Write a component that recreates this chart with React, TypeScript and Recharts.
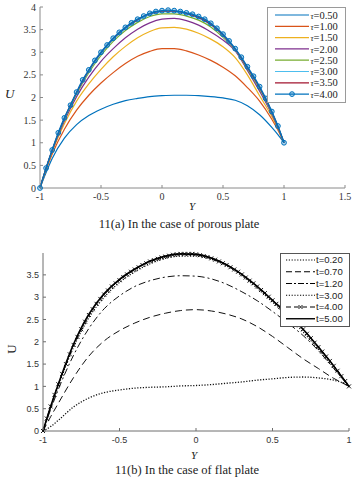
import React from 'react'
import { LineChart, Line, XAxis, YAxis } from 'recharts'

// shared Y sampling for the smooth curves
const yGrid = [-1, -0.95, -0.9, -0.8, -0.7, -0.6, -0.5, -0.4, -0.3, -0.2, -0.1, 0, 0.1, 0.2, 0.3, 0.4, 0.5, 0.6, 0.7, 0.8, 0.9, 0.95, 1]
const yGrid05 = Array.from({ length: 41 }, (_, i) => +(-1 + i * 0.05).toFixed(3))
const yGrid025 = Array.from({ length: 81 }, (_, i) => +(-1 + i * 0.025).toFixed(3))

// 11(a) porous plate
const tauLabels = ['0.50', '1.00', '1.50', '2.00', '2.50', '3.00', '3.50', '4.00']
const tauColors = ['#0072BD', '#D95319', '#EDB120', '#7E2F8E', '#77AC30', '#4DBEEE', '#A2142F', '#0072BD']
const tau050 = [0, 0.34, 0.65, 1.10, 1.40, 1.60, 1.74, 1.85, 1.93, 1.98, 2.02, 2.04, 2.05, 2.05, 2.04, 2.02, 1.99, 1.94, 1.82, 1.62, 1.34, 1.18, 1.0]
const tau100 = [0, 0.40, 0.75, 1.30, 1.72, 2.05, 2.32, 2.55, 2.75, 2.91, 3.02, 3.08, 3.08, 3.03, 2.94, 2.82, 2.67, 2.48, 2.22, 1.92, 1.52, 1.28, 1.0]
const tau150 = [0, 0.42, 0.80, 1.42, 1.92, 2.30, 2.62, 2.90, 3.13, 3.32, 3.46, 3.54, 3.55, 3.51, 3.42, 3.29, 3.12, 2.88, 2.50, 2.04, 1.58, 1.31, 1.0]
const tau200 = [0, 0.43, 0.82, 1.48, 2.02, 2.45, 2.80, 3.08, 3.32, 3.51, 3.65, 3.73, 3.75, 3.70, 3.60, 3.45, 3.27, 3.03, 2.60, 2.14, 1.63, 1.33, 1.0]
const tau250 = [0, 0.43, 0.83, 1.52, 2.08, 2.55, 2.93, 3.24, 3.48, 3.66, 3.79, 3.85, 3.85, 3.80, 3.71, 3.56, 3.33, 3.05, 2.63, 2.19, 1.66, 1.35, 1.0]
const tau300 = [0, 0.44, 0.84, 1.53, 2.10, 2.58, 2.97, 3.28, 3.52, 3.70, 3.83, 3.89, 3.89, 3.84, 3.75, 3.60, 3.36, 3.06, 2.65, 2.21, 1.67, 1.36, 1.0]
const tau350 = [0, 0.44, 0.84, 1.54, 2.11, 2.60, 2.99, 3.30, 3.54, 3.72, 3.85, 3.91, 3.91, 3.86, 3.77, 3.62, 3.38, 3.07, 2.66, 2.22, 1.68, 1.36, 1.0]
// every 0.05 (marker positions)
const tau400 = [
  0, 0.44, 0.84, 1.22, 1.55, 1.83, 2.12, 2.39, 2.61, 2.82,
  3.00, 3.16, 3.31, 3.44, 3.55, 3.65, 3.73, 3.80, 3.86, 3.90,
  3.92, 3.93, 3.92, 3.90, 3.87, 3.84, 3.79, 3.73, 3.64, 3.53,
  3.40, 3.25, 3.08, 2.89, 2.68, 2.47, 2.24, 1.98, 1.69, 1.37,
  1.0,
]
const topXTicks = [-1, -0.5, 0, 0.5, 1, 1.5]
const topYTicks = [0, 0.5, 1, 1.5, 2, 2.5, 3, 3.5, 4]

// 11(b) flat plate
const tLabels = ['0.20', '0.70', '1.20', '3.00', '4.00', '5.00']
const t020 = [0, 0.10, 0.24, 0.54, 0.74, 0.86, 0.92, 0.96, 0.98, 0.99, 1.01, 1.02, 1.04, 1.07, 1.10, 1.14, 1.17, 1.20, 1.21, 1.19, 1.14, 1.09, 1.0]
const t070 = [0, 0.32, 0.62, 1.20, 1.68, 2.02, 2.25, 2.42, 2.55, 2.64, 2.70, 2.72, 2.69, 2.62, 2.51, 2.34, 2.12, 1.87, 1.62, 1.40, 1.18, 1.09, 1.0]
const t120 = [0, 0.48, 0.93, 1.70, 2.30, 2.74, 3.03, 3.24, 3.37, 3.45, 3.48, 3.47, 3.41, 3.29, 3.12, 2.92, 2.68, 2.42, 2.14, 1.80, 1.40, 1.20, 1.0]
const t300 = [0, 0.53, 1.01, 1.88, 2.54, 3.00, 3.33, 3.57, 3.75, 3.87, 3.92, 3.92, 3.85, 3.70, 3.48, 3.20, 2.89, 2.57, 2.22, 1.83, 1.42, 1.21, 1.0]
const t500 = [0, 0.55, 1.05, 1.95, 2.62, 3.08, 3.40, 3.63, 3.81, 3.92, 3.97, 3.96, 3.88, 3.73, 3.51, 3.24, 2.93, 2.62, 2.28, 1.88, 1.46, 1.23, 1.0]
// every 0.025 (marker positions)
const t400 = [
  0, 0.28, 0.55, 0.81, 1.05, 1.28, 1.50, 1.72, 1.93, 2.11,
  2.28, 2.45, 2.60, 2.73, 2.85, 2.96, 3.06, 3.15, 3.24, 3.31,
  3.38, 3.45, 3.51, 3.57, 3.62, 3.67, 3.72, 3.76, 3.80, 3.83,
  3.86, 3.89, 3.91, 3.93, 3.95, 3.96, 3.97, 3.97, 3.97, 3.97,
  3.96, 3.94, 3.92, 3.90, 3.87, 3.84, 3.80, 3.76, 3.72, 3.67,
  3.62, 3.57, 3.51, 3.44, 3.37, 3.31, 3.24, 3.16, 3.09, 3.01,
  2.93, 2.85, 2.78, 2.70, 2.62, 2.54, 2.45, 2.37, 2.28, 2.18,
  2.08, 1.98, 1.88, 1.78, 1.67, 1.57, 1.46, 1.35, 1.23, 1.12,
  1.0,
]
const botXTicks = [-1, -0.5, 0, 0.5, 1]
const botYTicks = [0, 0.5, 1, 1.5, 2, 2.5, 3, 3.5]

const serif = '"Liberation Serif", "DejaVu Serif", serif'
const sans = '"Liberation Sans", Arial, sans-serif'

const pts = (xs: number[], us: number[]) => xs.map((x, i) => ({ x, u: us[i] }))
const blank = () => ''

const tauSeries = [tau050, tau100, tau150, tau200, tau250, tau300, tau350]

function Cross(props: any) {
  const { cx, cy, index } = props
  if (cx == null || cy == null) return <g key={`c${index}`} />
  const s = 2
  return (
    <path key={`c${index}`} d={`M${cx - s},${cy - s}L${cx + s},${cy + s}M${cx - s},${cy + s}L${cx + s},${cy - s}`}
      stroke="#000" strokeWidth={0.9} fill="none" />
  )
}

function PorousChart() {
  const ax = '#8a8a8a'
  return (
    <LineChart width={356} height={240} margin={{ top: 7, right: 11, bottom: 32, left: 0 }}>
      <XAxis dataKey="x" type="number" domain={[-1, 1.5]} ticks={topXTicks} interval={0} height={20}
        tickSize={-3} tickMargin={8} axisLine={{ stroke: ax }} tickLine={{ stroke: ax }}
        tick={{ fontSize: 10, fill: '#333', fontFamily: serif }} />
      <XAxis xAxisId="top" orientation="top" type="number" domain={[-1, 1.5]} ticks={topXTicks} interval={0}
        height={0} tickSize={-3} tickFormatter={blank} axisLine={{ stroke: ax }} tickLine={{ stroke: ax }} />
      <YAxis dataKey="u" type="number" domain={[0, 4]} ticks={topYTicks} interval={0} width={40}
        tickSize={-3} tickMargin={7} axisLine={{ stroke: ax }} tickLine={{ stroke: ax }}
        tick={{ fontSize: 10, fill: '#333', fontFamily: serif }} />
      <YAxis yAxisId="right" orientation="right" type="number" domain={[0, 4]} ticks={topYTicks} interval={0}
        width={0} tickSize={-3} tickFormatter={blank} axisLine={{ stroke: ax }} tickLine={{ stroke: ax }} />
      {tauSeries.map((s, i) => (
        <Line key={tauLabels[i]} data={pts(yGrid, s)} dataKey="u" type="monotone" stroke={tauColors[i]}
          strokeWidth={1.2} dot={false} isAnimationActive={false} />
      ))}
      <Line data={pts(yGrid05, tau400)} dataKey="u" type="monotone" stroke={tauColors[7]} strokeWidth={1.4}
        dot={{ r: 2.4, stroke: '#0072BD', strokeWidth: 1, fill: 'rgba(0,114,189,0.3)' }} isAnimationActive={false} />
    </LineChart>
  )
}

function FlatChart() {
  const ax = '#6e6e6e'
  return (
    <LineChart width={356} height={240} margin={{ top: 13, right: 7, bottom: 29, left: 0 }}>
      <XAxis dataKey="x" type="number" domain={[-1, 1]} ticks={botXTicks} interval={0} height={20}
        tickSize={-3} tickMargin={9} axisLine={{ stroke: ax }} tickLine={{ stroke: ax }}
        tick={{ fontSize: 9, fill: '#333', fontFamily: sans }} />
      <XAxis xAxisId="top" orientation="top" type="number" domain={[-1, 1]} ticks={botXTicks} interval={0}
        height={0} tickSize={-3} tickFormatter={blank} axisLine={{ stroke: ax }} tickLine={{ stroke: ax }} />
      <YAxis dataKey="u" type="number" domain={[0, 3.99]} ticks={botYTicks} interval={0} width={43}
        tickSize={-3} tickMargin={7} axisLine={{ stroke: ax }} tickLine={{ stroke: ax }}
        tick={{ fontSize: 9, fill: '#333', fontFamily: sans }} />
      <YAxis yAxisId="right" orientation="right" type="number" domain={[0, 3.99]} ticks={botYTicks} interval={0}
        width={0} tickSize={-3} tickFormatter={blank} axisLine={{ stroke: ax }} tickLine={{ stroke: ax }} />
      <Line data={pts(yGrid, t020)} dataKey="u" type="monotone" stroke="#111" strokeWidth={1.3}
        strokeDasharray="1.2 1.6" dot={false} isAnimationActive={false} />
      <Line data={pts(yGrid, t070)} dataKey="u" type="monotone" stroke="#111" strokeWidth={1}
        strokeDasharray="7 4" dot={false} isAnimationActive={false} />
      <Line data={pts(yGrid, t120)} dataKey="u" type="monotone" stroke="#111" strokeWidth={1}
        strokeDasharray="7 3 2 3" dot={false} isAnimationActive={false} />
      <Line data={pts(yGrid, t300)} dataKey="u" type="monotone" stroke="#111" strokeWidth={1.2}
        strokeDasharray="1.2 1.6" dot={false} isAnimationActive={false} />
      <Line data={pts(yGrid025, t400)} dataKey="u" type="monotone" stroke="#111" strokeWidth={1}
        strokeDasharray="5 3" dot={<Cross />} isAnimationActive={false} />
      <Line data={pts(yGrid, t500)} dataKey="u" type="monotone" stroke="#000" strokeWidth={1.6}
        dot={false} isAnimationActive={false} />
    </LineChart>
  )
}

function PorousLegend() {
  return (
    <svg width={79} height={96} style={{ position: 'absolute', left: 267, top: 7 }}>
      <rect x={0.5} y={0.5} width={78} height={95} fill="#fff" stroke="#9a9a9a" />
      {tauLabels.map((lab, i) => {
        const cy = 8 + i * 11.3
        return (
          <g key={lab}>
            <line x1={8} x2={42} y1={cy} y2={cy} stroke={tauColors[i]} strokeWidth={1.2} />
            {i === 7 && <circle cx={25} cy={cy} r={2.4} stroke="#0072BD" fill="rgba(0,114,189,0.3)" />}
            <text x={43.5} y={cy + 3.6} fontSize={10.5} fontFamily={serif} fill="#222">
              <tspan fontStyle="italic" fontSize={8.5}>τ</tspan>={lab}
            </text>
          </g>
        )
      })}
    </svg>
  )
}

function FlatLegend() {
  const dashes = ['1.2 1.6', '6 3', '6 2 2 2', '1.2 1.6', '5 3', undefined]
  return (
    <svg width={70} height={74} style={{ position: 'absolute', left: 280, top: 253 }}>
      <rect x={0.5} y={0.5} width={69} height={73} fill="#fff" stroke="#555" />
      {tLabels.map((lab, i) => {
        const cy = 7 + i * 11.75
        return (
          <g key={lab}>
            <line x1={6} x2={35} y1={cy} y2={cy} stroke="#000" strokeWidth={i === 5 ? 1.4 : 1.1}
              strokeDasharray={dashes[i]} />
            {i === 4 && <Cross cx={20.5} cy={cy} index={0} />}
            <text x={36} y={cy + 3.3} fontSize={9.5} fontFamily={sans} fill="#222">t={lab}</text>
          </g>
        )
      })}
    </svg>
  )
}

const abs = (s: React.CSSProperties): React.CSSProperties => ({ position: 'absolute', whiteSpace: 'nowrap', ...s })

export default function App() {
  return (
    <div style={{ position: 'absolute', left: 0, top: 0, width: 356, height: 480, background: '#fff', overflow: 'hidden' }}>
      <div style={abs({ left: 0, top: 0 })}><PorousChart /></div>
      <PorousLegend />
      <div style={abs({ left: 5, top: 86, fontFamily: serif, fontStyle: 'italic', fontSize: 13, color: '#222' })}>U</div>
      <div style={abs({ left: 189, top: 200, fontFamily: serif, fontStyle: 'italic', fontSize: 11, color: '#222' })}>Y</div>
      <div style={abs({ left: 0, top: 216, width: 358, textAlign: 'center', fontFamily: serif, fontSize: 12.5, lineHeight: '16px', color: '#222' })}>
        11(a) In the case of porous plate
      </div>

      <div style={abs({ left: 0, top: 240 })}><FlatChart /></div>
      <FlatLegend />
      <div style={abs({ left: 7, top: 341, fontFamily: serif, fontSize: 13, color: '#222', transform: 'rotate(-90deg)' })}>U</div>
      <div style={abs({ left: 191, top: 449, fontFamily: serif, fontStyle: 'italic', fontSize: 11, color: '#222' })}>Y</div>
      <div style={abs({ left: 8, top: 462, width: 358, textAlign: 'center', fontFamily: serif, fontSize: 12.5, lineHeight: '16px', color: '#222' })}>
        11(b) In the case of flat plate
      </div>
    </div>
  )
}
